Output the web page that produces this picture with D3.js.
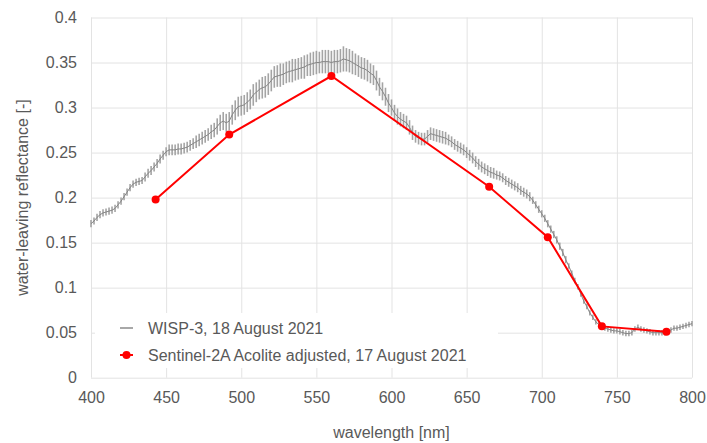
<!DOCTYPE html>
<html>
<head>
<meta charset="utf-8">
<script src="https://cdn.jsdelivr.net/npm/d3@7"></script>
<style>
  body { margin: 0; background: #fff; }
  svg { display: block; font-family: "Liberation Sans", Arial, sans-serif; }
  .grid line { stroke: #e3e3e3; stroke-width: 1; }
  .grid .domain { display: none; }
  .tick text { fill: #595959; font-size: 16px; }
</style>
</head>
<body>
<svg width="707" height="443"></svg>
<script>
// WISP-3 in-situ spectrum, 2 nm steps from 400 to 800 nm
var wispValues = [
  .171,.174,.178,.181,.183,.184,.185,.186,.188,.192,
  .196,.201,.206,.211,.215,.217,.218,.219,.223,.227,
  .230,.234,.238,.243,.247,.251,.253,.253,.253,.254,
  .254,.255,.256,.258,.260,.262,.264,.266,.268,.270,
  .273,.275,.279,.283,.285,.283,.285,.292,.297,.301,
  .302,.303,.306,.309,.314,.317,.320,.322,.323,.326,
  .330,.334,.335,.336,.337,.339,.340,.341,.342,.343,
  .344,.345,.347,.348,.349,.350,.350,.351,.351,.351,
  .350,.351,.351,.352,.354,.353,.352,.350,.348,.346,
  .344,.343,.341,.338,.336,.330,.323,.318,.312,.305,
  .300,.294,.290,.287,.285,.283,.278,.272,.268,.266,
  .265,.265,.268,.271,.270,.269,.268,.267,.266,.264,
  .262,.259,.257,.255,.253,.250,.247,.244,.240,.237,
  .234,.232,.230,.228,.227,.225,.224,.222,.219,.217,
  .215,.213,.211,.208,.206,.204,.201,.197,.192,.187,
  .182,.177,.171,.165,.159,.153,.146,.139,.131,.124,
  .116,.108,.101,.093,.085,.079,.072,.067,.062,.059,
  .057,.055,.054,.053,.052,.052,.051,.050,.049,.049,
  .050,.054,.056,.054,.053,.052,.051,.050,.050,.050,
  .050,.050,.051,.053,.055,.055,.056,.057,.058,.059,
  .060
];
// half length of the error bars
var wispErrors = [
  .004,.004,.004,.004,.004,.004,.004,.004,.004,.004,
  .004,.004,.004,.004,.004,.004,.004,.004,.005,.005,
  .005,.005,.005,.005,.005,.005,.006,.006,.006,.006,
  .006,.006,.006,.006,.006,.007,.007,.007,.007,.007,
  .008,.008,.009,.009,.010,.010,.010,.011,.011,.011,
  .011,.011,.011,.011,.012,.011,.011,.012,.012,.012,
  .012,.012,.012,.013,.012,.012,.012,.013,.012,.012,
  .012,.013,.012,.013,.013,.013,.012,.013,.013,.013,
  .013,.013,.013,.013,.014,.013,.013,.013,.012,.012,
  .012,.012,.012,.011,.011,.011,.010,.010,.010,.010,
  .009,.009,.009,.008,.008,.008,.008,.008,.007,.007,
  .007,.007,.007,.007,.007,.007,.007,.007,.007,.006,
  .006,.006,.006,.006,.006,.006,.006,.006,.006,.006,
  .006,.006,.006,.006,.006,.005,.005,.005,.005,.005,
  .005,.005,.005,.005,.005,.005,.005,.004,.004,.004,
  .004,.004,.004,.004,.004,.004,.004,.004,.004,.003,
  .003,.003,.003,.003,.003,.003,.003,.003,.003,.003,
  .003,.003,.003,.003,.003,.003,.003,.003,.003,.003,
  .003,.003,.003,.003,.003,.003,.003,.003,.003,.003,
  .003,.003,.003,.003,.003,.003,.003,.003,.003,.003,
  .003
];
var wispWavelengths = d3.range(400, 801, 2);

// Sentinel-2A bands
var s2Wavelengths = [443, 492, 560, 665, 704, 740, 783];
var s2Values = [0.198, 0.270, 0.335, 0.212, 0.156, 0.057, 0.051];

var xTicks = [400, 450, 500, 550, 600, 650, 700, 750, 800];
var yTicks = [0, 0.05, 0.1, 0.15, 0.2, 0.25, 0.3, 0.35, 0.4];
var legendLabels = ["WISP-3, 18 August 2021", "Sentinel-2A Acolite adjusted, 17 August 2021"];

const svg = d3.select('svg');
const margin = {left: 91, right: 15, top: 17.5, bottom: 65.3};
const width = 707 - margin.left - margin.right;
const height = 443 - margin.top - margin.bottom;

const g = svg.append('g').attr('transform', 'translate(' + margin.left + ',' + margin.top + ')');

const x = d3.scaleLinear().domain([400, 800]).range([0, width]);
const y = d3.scaleLinear().domain([0, 0.4]).range([height, 0]);

// gridlines + axes
g.append('g')
  .attr('class', 'grid')
  .attr('transform', 'translate(0,' + height + ')')
  .call(d3.axisBottom(x).tickValues(xTicks).tickSize(-height).tickPadding(14).tickFormat(d3.format('d')));

g.append('g')
  .attr('class', 'grid')
  .call(d3.axisLeft(y).tickValues(yTicks).tickSize(-width).tickPadding(14).tickFormat(d => String(+d.toFixed(2))));

// legend box (drawn under the data, covers the grid)
const legend = g.append('g').attr('transform', 'translate(4,' + (313 - margin.top) + ')');
legend.append('rect').attr('width', 403).attr('height', 55).attr('fill', '#fff');

// WISP-3 error bars and line
const wisp = wispWavelengths.map((w, i) => ({w: w, v: wispValues[i], e: wispErrors[i]}));

g.append('g')
  .selectAll('line')
  .data(wisp)
  .enter().append('line')
  .attr('x1', d => x(d.w))
  .attr('x2', d => x(d.w))
  .attr('y1', d => y(d.v - d.e))
  .attr('y2', d => y(d.v + d.e))
  .attr('stroke', '#a4a4a4')
  .attr('stroke-width', 1.6);

g.append('path')
  .datum(wisp)
  .attr('fill', 'none')
  .attr('stroke', '#858585')
  .attr('stroke-width', 1)
  .attr('d', d3.line().x(d => x(d.w)).y(d => y(d.v)));

// Sentinel-2A
const s2 = s2Wavelengths.map((w, i) => ({w: w, v: s2Values[i]}));

g.append('path')
  .datum(s2)
  .attr('fill', 'none')
  .attr('stroke', '#ff0000')
  .attr('stroke-width', 2)
  .attr('d', d3.line().x(d => x(d.w)).y(d => y(d.v)));

g.append('g')
  .selectAll('circle')
  .data(s2)
  .enter().append('circle')
  .attr('cx', d => x(d.w))
  .attr('cy', d => y(d.v))
  .attr('r', 4)
  .attr('fill', '#ff0000');

// legend entries
const legendTop = svg.append('g');
legendTop.append('line')
  .attr('x1', 120).attr('x2', 133).attr('y1', 328).attr('y2', 328)
  .attr('stroke', '#a8a8a8').attr('stroke-width', 2);
legendTop.append('line')
  .attr('x1', 120).attr('x2', 133).attr('y1', 355).attr('y2', 355)
  .attr('stroke', '#ff0000').attr('stroke-width', 2);
legendTop.append('circle')
  .attr('cx', 126.5).attr('cy', 355).attr('r', 4).attr('fill', '#ff0000');
legendTop.selectAll('text')
  .data(legendLabels)
  .enter().append('text')
  .attr('x', 148)
  .attr('y', (d, i) => 334 + i * 27)
  .attr('fill', '#595959')
  .attr('font-size', '16px')
  .text(d => d);

// axis titles
svg.append('text')
  .attr('x', margin.left + width / 2)
  .attr('y', 438)
  .attr('text-anchor', 'middle')
  .attr('fill', '#595959')
  .attr('font-size', '16px')
  .text('wavelength [nm]');

svg.append('text')
  .attr('transform', 'translate(28,' + (margin.top + height / 2) + ') rotate(-90)')
  .attr('text-anchor', 'middle')
  .attr('fill', '#595959')
  .attr('font-size', '16px')
  .text('water-leaving reflectance [-]');
</script>
</body>
</html>
